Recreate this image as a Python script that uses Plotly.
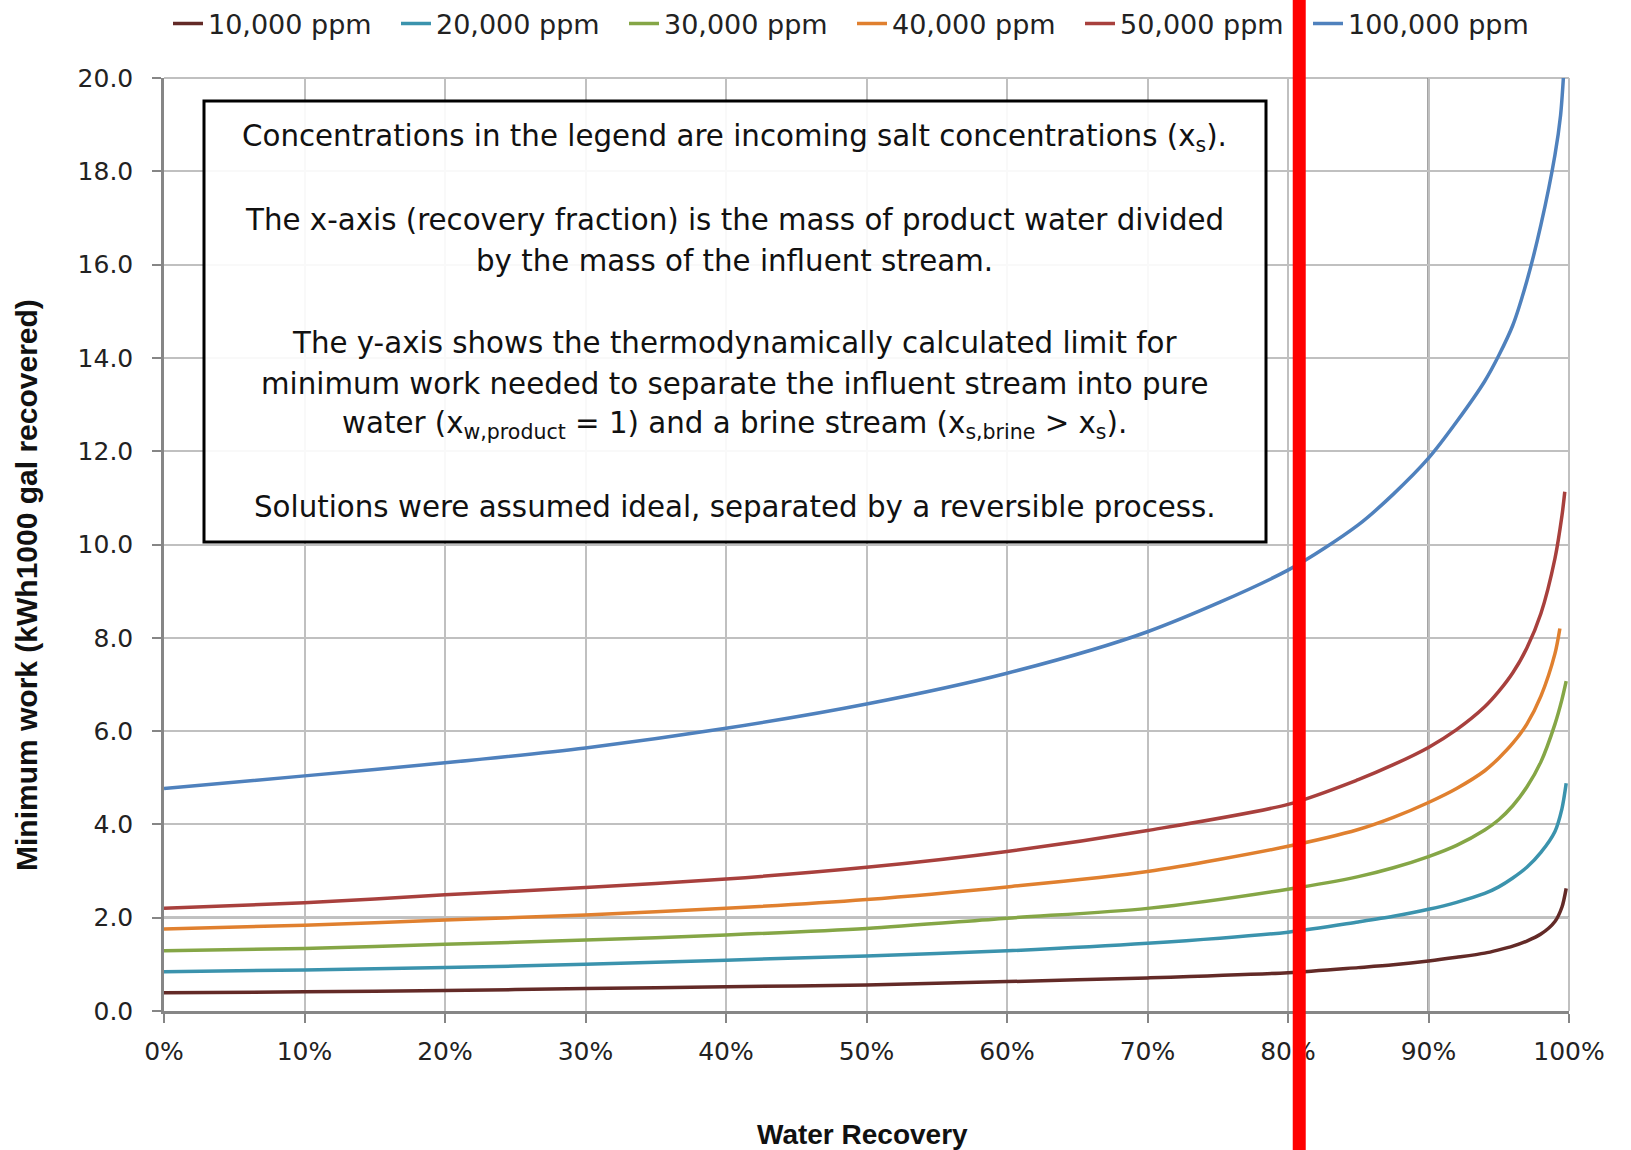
import plotly.graph_objects as go

# ---------------- data ----------------
series_names = ["10,000 ppm", "20,000 ppm", "30,000 ppm", "40,000 ppm", "50,000 ppm", "100,000 ppm"]
series_colors = ["#632A27", "#3B93AD", "#85A646", "#E0802F", "#A8403D", "#4F81BD"]

# water recovery, percent
recovery_10k = [0, 10, 20, 30, 40, 50, 60, 70, 80, 85, 87.5, 90, 92, 94, 95, 96, 97, 98, 99, 99.5, 99.8]
work_10k = [0.39, 0.41, 0.44, 0.48, 0.52, 0.56, 0.63, 0.71, 0.82, 0.93, 0.99, 1.07, 1.15, 1.24, 1.31, 1.39, 1.50, 1.65, 1.92, 2.23, 2.63]

recovery_20k = [0, 10, 20, 30, 40, 50, 60, 70, 80, 85, 87.5, 90, 92, 94, 95, 96, 97, 98, 99, 99.5, 99.8]
work_20k = [0.84, 0.88, 0.93, 1.00, 1.09, 1.18, 1.29, 1.45, 1.69, 1.91, 2.03, 2.18, 2.33, 2.52, 2.66, 2.85, 3.08, 3.40, 3.85, 4.34, 4.88]

recovery_30k = [0, 10, 20, 30, 40, 50, 60, 70, 80, 85, 87.5, 90, 92, 94, 95, 96, 97, 98, 99, 99.5, 99.8]
work_30k = [1.29, 1.34, 1.43, 1.52, 1.63, 1.77, 1.99, 2.20, 2.61, 2.88, 3.07, 3.31, 3.55, 3.88, 4.10, 4.40, 4.80, 5.34, 6.15, 6.68, 7.07]

recovery_40k = [0, 10, 20, 30, 40, 50, 60, 70, 80, 85, 87.5, 90, 92, 94, 95, 96, 97, 98, 99, 99.35]
work_40k = [1.76, 1.84, 1.95, 2.06, 2.20, 2.39, 2.66, 2.99, 3.53, 3.89, 4.15, 4.47, 4.77, 5.15, 5.42, 5.74, 6.15, 6.75, 7.66, 8.20]

recovery_50k = [0, 10, 20, 30, 40, 50, 60, 70, 80, 85, 87.5, 90, 92, 94, 95, 96, 97, 98, 99, 99.5, 99.7]
work_50k = [2.20, 2.32, 2.49, 2.65, 2.83, 3.08, 3.42, 3.87, 4.43, 4.96, 5.28, 5.65, 6.03, 6.52, 6.85, 7.25, 7.78, 8.52, 9.70, 10.62, 11.13]

recovery_100k = [0, 10, 20, 30, 40, 50, 60, 70, 80, 85, 87.5, 90, 92, 94, 95, 96, 97, 98, 99, 99.4, 99.6]
work_100k = [4.77, 5.04, 5.32, 5.64, 6.06, 6.58, 7.24, 8.13, 9.45, 10.42, 11.08, 11.85, 12.63, 13.50, 14.05, 14.70, 15.65, 16.85, 18.35, 19.20, 20.00]

x_ticks = [0, 10, 20, 30, 40, 50, 60, 70, 80, 90, 100]
x_tick_labels = ["0%", "10%", "20%", "30%", "40%", "50%", "60%", "70%", "80%", "90%", "100%"]
y_ticks = [0, 2, 4, 6, 8, 10, 12, 14, 16, 18, 20]
y_tick_labels = ["0.0", "2.0", "4.0", "6.0", "8.0", "10.0", "12.0", "14.0", "16.0", "18.0", "20.0"]
highlight_x_grid = [90]
highlight_y_grid = [2]
marker_recovery = 80.8   # red vertical marker

note_lines = [
    "Concentrations in the legend are incoming salt concentrations (x<sub>s</sub>).",
    "",
    "The x-axis (recovery fraction) is the mass of product water divided",
    "by the mass of the influent stream.",
    "",
    "The y-axis shows the thermodynamically calculated limit for",
    "minimum work needed to separate the influent stream into pure",
    "water (x<sub>w,product</sub> = 1) and a brine stream (x<sub>s,brine</sub> &gt; x<sub>s</sub>).",
    "",
    "Solutions were assumed ideal, separated by a reversible process.",
]

x_title = "Water Recovery"
y_title = "Minimum work (kWh1000 gal recovered)"

# ---------------- figure ----------------
W, H = 1631, 1150
ML, MR, MT, MB = 164, 62, 78, 139
PW, PH = W - ML - MR, H - MT - MB

def px_x(px):
    return (px - ML) / PW

def px_y(py):
    return (H - MB - py) / PH

TEXT_FONT = "DejaVu Sans"
TITLE_FONT = "Liberation Sans, Arial, sans-serif"

xs = [recovery_10k, recovery_20k, recovery_30k, recovery_40k, recovery_50k, recovery_100k]
ys = [work_10k, work_20k, work_30k, work_40k, work_50k, work_100k]

fig = go.Figure()
for name, color, x, y in zip(series_names, series_colors, xs, ys):
    fig.add_trace(go.Scatter(
        x=x, y=y, name=name, mode="lines",
        line=dict(color=color, width=3.5, shape="spline", smoothing=0.8),
    ))

shapes = []
# light frame lines at the top and right edges (end gridlines)
shapes.append(dict(type="line", xref="paper", yref="paper", x0=0, x1=1, y0=1, y1=1,
                   line=dict(color="#C0C0C0", width=2), layer="below"))
shapes.append(dict(type="line", xref="paper", yref="paper", x0=1, x1=1, y0=0, y1=1,
                   line=dict(color="#C0C0C0", width=2), layer="below"))
for gx in highlight_x_grid:
    shapes.append(dict(type="line", xref="x", yref="paper", x0=gx, x1=gx, y0=0, y1=1,
                       line=dict(color="#868686", width=2.5), layer="below"))
for gy in highlight_y_grid:
    shapes.append(dict(type="line", xref="paper", yref="y", x0=0, x1=1, y0=gy, y1=gy,
                       line=dict(color="#868686", width=2.5), layer="below"))

# note box
shapes.append(dict(type="rect", xref="paper", yref="paper",
                   x0=px_x(204), x1=px_x(1266), y0=px_y(542), y1=px_y(101),
                   line=dict(color="black", width=3), fillcolor="rgba(255,255,255,0.9)",
                   layer="above"))
# red marker line
shapes.append(dict(type="line", xref="x", yref="paper", x0=marker_recovery, x1=marker_recovery,
                   y0=-0.3, y1=1.3, line=dict(color="#FF0000", width=13), layer="above"))

annotations = []
pitch = 41
for i, line in enumerate(note_lines):
    if not line:
        continue
    annotations.append(dict(
        text=line, xref="paper", yref="paper", x=px_x(734.5), y=px_y(138 + i * pitch),
        xanchor="center", yanchor="middle", showarrow=False,
        font=dict(family=TEXT_FONT, size=29.3, color="#111111"),
    ))

annotations.append(dict(
    text=y_title, xref="paper", yref="paper", x=px_x(26), y=px_y(585),
    xanchor="center", yanchor="middle", showarrow=False, textangle=-90,
    font=dict(family=TITLE_FONT, size=30, color="#111111", weight="bold"),
))
annotations.append(dict(
    text=x_title, xref="paper", yref="paper", x=px_x(862), y=px_y(1134),
    xanchor="center", yanchor="middle", showarrow=False,
    font=dict(family=TITLE_FONT, size=28, color="#111111", weight="bold"),
))

axis_common = dict(
    showgrid=True, gridcolor="#C0C0C0", gridwidth=2,
    showline=True, linecolor="#868686", linewidth=2.5,
    ticks="outside", ticklen=9, tickwidth=2, tickcolor="#868686",
    zeroline=False, tickfont=dict(family=TEXT_FONT, size=25, color="#222222"),
)

fig.update_layout(
    width=W, height=H,
    margin=dict(l=ML, r=MR, t=MT, b=MB, pad=0),
    paper_bgcolor="white", plot_bgcolor="white",
    xaxis=dict(range=[0, 100], tickvals=x_ticks, ticktext=x_tick_labels,
               ticklabelstandoff=7, **axis_common),
    yaxis=dict(range=[0, 20], tickvals=y_ticks, ticktext=y_tick_labels,
               ticklabelstandoff=14, **axis_common),
    legend=dict(
        orientation="h", xref="container", yref="container",
        x=168 / W, y=1 - 24 / H, xanchor="left", yanchor="middle",
        font=dict(family=TEXT_FONT, size=27, color="#222222"),
        bgcolor="rgba(0,0,0,0)", borderwidth=0, entrywidth=183, itemwidth=30,
        tracegroupgap=0,
    ),
    shapes=shapes,
    annotations=annotations,
    showlegend=True,
)

fig.write_html("out.html")
